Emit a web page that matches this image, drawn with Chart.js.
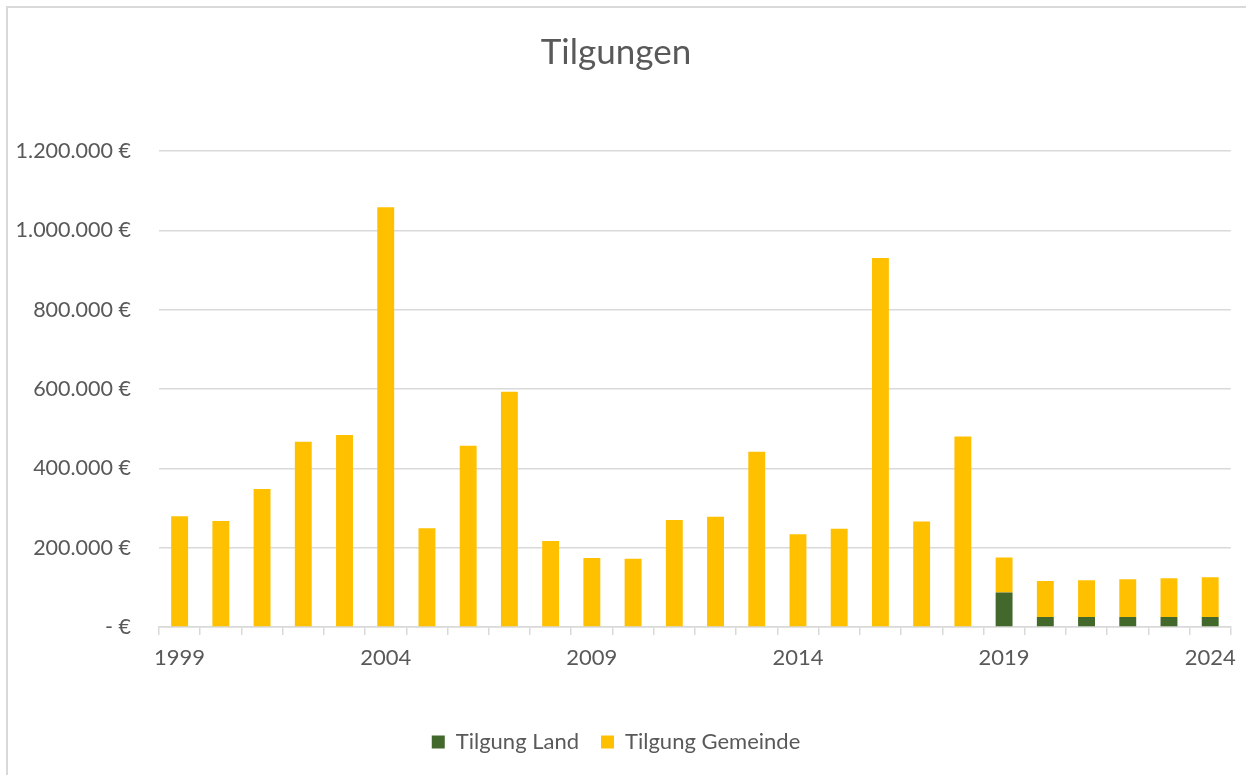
<!DOCTYPE html>
<html>
<head>
<meta charset="utf-8">
<script src="https://cdn.jsdelivr.net/npm/chart.js@4/dist/chart.umd.min.js"></script>
<style>
  html, body { margin: 0; padding: 0; background: #ffffff; overflow: hidden; }
  #wrap { position: relative; width: 1246px; height: 775px; }
  #frame { position: absolute; left: 6px; top: 6px; width: 1300px; height: 900px;
           border-top: 2px solid #d9d9d9; border-left: 2px solid #d9d9d9; pointer-events: none; }
</style>
</head>
<body>
<div id="wrap">
  <canvas id="c" width="1246" height="775"></canvas>
  <div id="frame"></div>
</div>
<script>
const years = ['1999','2000','2001','2002','2003','2004','2005','2006','2007','2008','2009','2010','2011','2012','2013','2014','2015','2016','2017','2018','2019','2020','2021','2022','2023','2024'];
const tilgungLand = [0,0,0,0,0,0,0,0,0,0,0,0,0,0,0,0,0,0,0,0,87000,25000,25000,25000,25000,25000];
const tilgungGemeinde = [279000,267000,348000,467000,484000,1058000,249000,457000,593000,217000,174000,172000,270000,278000,442000,234000,248000,930000,266000,480000,88000,91000,93000,95500,98000,100500];
const yTicks = [0,200000,400000,600000,800000,1000000,1200000];

const FONT = 'Lato, "Open Sans", sans-serif';
const TXT = '#595959';
const GRID = '#d9d9d9';

function euro(v) {
  if (v === 0) return '- €';
  return String(v).replace(/\B(?=(\d{3})+(?!\d))/g, '.') + ' €';
}

new Chart(document.getElementById('c'), {
  type: 'bar',
  data: {
    labels: years,
    datasets: [
      { label: 'Tilgung Land', data: tilgungLand, backgroundColor: '#43682b', borderWidth: 0,
        barPercentage: 0.41, categoryPercentage: 1.0 },
      { label: 'Tilgung Gemeinde', data: tilgungGemeinde, backgroundColor: '#ffc000', borderWidth: 0,
        barPercentage: 0.41, categoryPercentage: 1.0 }
    ]
  },
  options: {
    responsive: false,
    animation: false,
    devicePixelRatio: 1,
    layout: { padding: { left: 0, right: 14, top: 0, bottom: 12 } },
    plugins: {
      title: { display: true, text: 'Tilgungen', color: TXT,
               font: { family: FONT, size: 35, weight: 'normal' },
               padding: { top: 32, bottom: 77 } },
      legend: { position: 'bottom',
                labels: { boxWidth: 13, boxHeight: 13, padding: 22, color: TXT,
                          font: { family: FONT, size: 22 } } },
      tooltip: { enabled: false }
    },
    scales: {
      x: {
        stacked: true,
        offset: true,
        grid: { display: true, drawOnChartArea: false, drawTicks: true, tickLength: 8,
                color: GRID, lineWidth: 1.5, offset: true },
        border: { display: true, color: GRID, width: 1.5 },
        ticks: { autoSkip: false, maxRotation: 0, minRotation: 0, padding: 10, color: TXT,
                 font: { family: FONT, size: 22 },
                 callback: (v, i) => (i % 5 === 0 ? years[i] : '') },
        afterFit: (s) => { s.height = 82; }
      },
      y: {
        stacked: true,
        min: 0, max: 1200000,
        afterBuildTicks: (s) => { s.ticks = yTicks.map(v => ({ value: v })); },
        grid: { color: GRID, lineWidth: 1.5, drawTicks: false },
        border: { display: false },
        ticks: { padding: 28, color: TXT, font: { family: FONT, size: 21.5 },
                 callback: (v) => euro(v) },
        afterFit: (s) => { s.width = 159; }
      }
    }
  }
});
</script>
</body>
</html>
